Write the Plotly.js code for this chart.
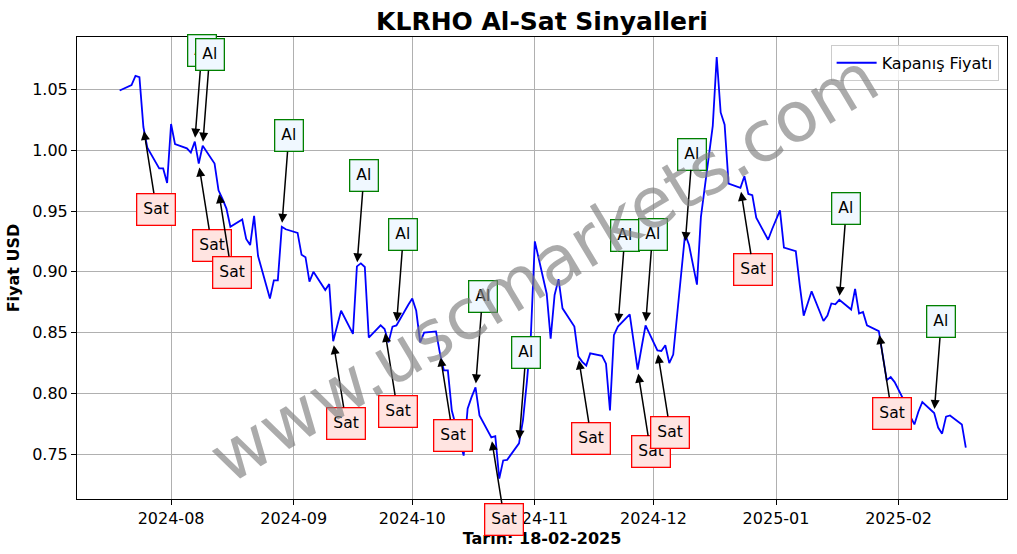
<!DOCTYPE html>
<html>
<head>
<meta charset="utf-8">
<script src="https://cdn.plot.ly/plotly-3.0.1.min.js"></script>
<style>html,body{margin:0;padding:0;background:#fff;}#chart{width:1017px;height:554px;}</style>
</head>
<body>
<div id="chart"></div>
<script>
// Closing prices (USD)
const dates = [
 '2024-07-19','2024-07-22','2024-07-23','2024-07-24','2024-07-25','2024-07-26','2024-07-29','2024-07-30','2024-07-31',
 '2024-08-01','2024-08-02','2024-08-05','2024-08-06','2024-08-07','2024-08-08','2024-08-09','2024-08-12','2024-08-13',
 '2024-08-14','2024-08-15','2024-08-16','2024-08-19','2024-08-20','2024-08-21','2024-08-22','2024-08-23','2024-08-26',
 '2024-08-27','2024-08-28','2024-08-29','2024-08-30','2024-09-02','2024-09-03','2024-09-04','2024-09-05','2024-09-06',
 '2024-09-09','2024-09-10','2024-09-11','2024-09-12','2024-09-13','2024-09-16','2024-09-17','2024-09-18','2024-09-19',
 '2024-09-20','2024-09-23','2024-09-24','2024-09-25','2024-09-26','2024-09-27','2024-09-30','2024-10-01','2024-10-02',
 '2024-10-03','2024-10-04','2024-10-07','2024-10-08','2024-10-09','2024-10-10','2024-10-11','2024-10-14','2024-10-15',
 '2024-10-16','2024-10-17','2024-10-18','2024-10-21','2024-10-22','2024-10-23','2024-10-24','2024-10-25','2024-10-28',
 '2024-10-29','2024-10-30','2024-10-31','2024-11-01','2024-11-04','2024-11-05','2024-11-06','2024-11-07','2024-11-08',
 '2024-11-11','2024-11-12','2024-11-13','2024-11-14','2024-11-15','2024-11-18','2024-11-19','2024-11-20','2024-11-21',
 '2024-11-22','2024-11-25','2024-11-26','2024-11-27','2024-11-28','2024-11-29','2024-12-02','2024-12-03','2024-12-04',
 '2024-12-05','2024-12-06','2024-12-09','2024-12-10','2024-12-11','2024-12-12','2024-12-13','2024-12-16','2024-12-17',
 '2024-12-18','2024-12-19','2024-12-20','2024-12-23','2024-12-24','2024-12-25','2024-12-26','2024-12-27','2024-12-30',
 '2024-12-31','2025-01-01','2025-01-02','2025-01-03','2025-01-06','2025-01-07','2025-01-08','2025-01-09','2025-01-10',
 '2025-01-13','2025-01-14','2025-01-15','2025-01-16','2025-01-17','2025-01-20','2025-01-21','2025-01-22','2025-01-23',
 '2025-01-24','2025-01-27','2025-01-28','2025-01-29','2025-01-30','2025-01-31','2025-02-03','2025-02-04','2025-02-05',
 '2025-02-06','2025-02-07','2025-02-10','2025-02-11','2025-02-12','2025-02-13','2025-02-14','2025-02-17','2025-02-18'
];
const closes = [
 1.049,1.0535,1.061,1.060,1.019,1.002,0.985,0.985,0.973,
 1.0215,1.005,1.0015,0.998,1.007,0.989,1.0037,0.989,0.967,
 0.960,0.952,0.937,0.943,0.927,0.922,0.946,0.913,0.878,
 0.893,0.893,0.937,0.935,0.932,0.914,0.912,0.892,0.900,
 0.885,0.890,0.843,0.856,0.868,0.849,0.9045,0.907,0.904,
 0.846,0.856,0.853,0.842,0.855,0.856,0.873,0.878,0.868,
 0.842,0.850,0.851,0.833,0.819,0.819,0.786,0.749,0.7875,
 0.797,0.805,0.782,0.764,0.765,0.730,0.745,0.7455,0.759,
 0.778,0.810,0.848,0.925,0.882,0.845,0.881,0.894,0.870,
 0.855,0.8305,0.826,0.823,0.833,0.831,0.8245,0.786,0.848,
 0.855,0.865,0.843,0.8196,0.838,0.856,0.8355,0.835,0.8396,
 0.825,0.832,0.931,0.922,0.905,0.8895,0.945,1.020,1.0766,
 1.031,1.021,0.9725,0.969,0.9785,0.964,0.963,0.9445,0.9264,
 0.935,0.943,0.9505,0.920,0.917,0.889,0.864,0.874,0.884,
 0.8596,0.864,0.874,0.8733,0.877,0.869,0.886,0.8657,0.867,
 0.856,0.8513,0.832,0.811,0.8135,0.8094,0.790,0.781,0.7746,
 0.785,0.793,0.784,0.772,0.767,0.781,0.782,0.7746,0.7555
];

// Buy (Al) / Sell (Sat) signals
const sigDates = ['2024-07-25','2024-08-07','2024-08-08','2024-08-09','2024-08-13','2024-08-29','2024-09-11','2024-09-17',
 '2024-09-24','2024-09-27','2024-10-08','2024-10-17','2024-10-21','2024-10-28','2024-11-12','2024-11-22','2024-11-27',
 '2024-11-29','2024-12-02','2024-12-09','2024-12-23','2025-01-17','2025-01-27','2025-02-10'];
const sigPrices = [1.019,1.007,0.989,1.0037,0.967,0.937,0.843,0.9045,
 0.853,0.856,0.833,0.805,0.764,0.759,0.8305,0.855,0.8196,
 0.856,0.8355,0.922,0.969,0.877,0.8513,0.784];
const sigTypes = ['Sat','Al','Sat','Al','Sat','Al','Sat','Al',
 'Sat','Al','Sat','Al','Sat','Al','Sat','Al','Sat',
 'Al','Sat','Al','Sat','Al','Sat','Al'];

const seriesName = 'Kapanış Fiyatı';
const titleText = 'KLRHO Al-Sat Sinyalleri';
const xTitle = 'Tarih: 18-02-2025';
const yTitle = 'Fiyat USD';
const watermark = 'www.uscmarkets.com';

const FONT = 'DejaVu Sans, sans-serif';

const trace = {
  x: dates, y: closes, type: 'scatter', mode: 'lines', name: seriesName,
  line: {color: '#0000ff', width: 1.8}, showlegend: true
};

const annotations = sigTypes.map((t, i) => {
  const sat = t === 'Sat';
  return {
    x: sigDates[i], y: sigPrices[i], xref: 'x', yref: 'y',
    text: t, showarrow: true,
    ax: sat ? 13 : 7, ay: sat ? 82 : -91,
    arrowhead: 2, arrowsize: 1.2, arrowwidth: 1.5, arrowcolor: '#000000',
    standoff: 4, startstandoff: 0,
    font: {family: FONT, size: 15.5, color: '#000000'},
    bgcolor: sat ? '#ffe4e1' : '#f0f8ff',
    bordercolor: sat ? '#ff0000' : '#008000',
    borderwidth: 1.3, borderpad: 6
  };
});

annotations.push({
  xref: 'paper', yref: 'paper', x: 0.502, y: 0.5,
  text: watermark, showarrow: false, textangle: -31,
  font: {family: FONT, size: 70, color: 'rgba(128,128,128,0.66)'}
});

const axisCommon = {
  showline: true, mirror: true, linecolor: '#000000', linewidth: 1,
  ticks: 'outside', ticklen: 5, tickwidth: 1, tickcolor: '#000000',
  showgrid: true, gridcolor: '#b0b0b0', gridwidth: 1, zeroline: false,
  tickfont: {family: FONT, size: 16, color: '#000000'}
};

const layout = {
  width: 1017, height: 554,
  margin: {l: 77, r: 10, t: 37, b: 55},
  paper_bgcolor: '#ffffff', plot_bgcolor: '#ffffff',
  title: {text: titleText, x: 0.5, xref: 'paper', xanchor: 'center',
          y: 1 - 21/554, yref: 'container', yanchor: 'middle',
          font: {family: FONT, size: 25, color: '#000000', weight: 'bold'}},
  xaxis: Object.assign({}, axisCommon, {
    type: 'date', range: ['2024-07-08 05:00', '2025-02-28 10:00'],
    tick0: '2024-08-01', dtick: 'M1', tickformat: '%Y-%m',
    title: {text: xTitle, standoff: 5, font: {family: FONT, size: 16, color: '#000000', weight: 'bold'}}
  }),
  yaxis: Object.assign({}, axisCommon, {
    range: [0.7133, 1.093], dtick: 0.05, tick0: 0.75, tickformat: '.2f',
    title: {text: yTitle, standoff: 8, font: {family: FONT, size: 16, color: '#000000', weight: 'bold'}}
  }),
  legend: {x: 0.991, y: 0.983, xanchor: 'right', yanchor: 'top',
           bgcolor: 'rgba(255,255,255,0.8)', bordercolor: '#cccccc', borderwidth: 1,
           itemwidth: 40,
           font: {family: FONT, size: 16, color: '#000000'}},
  annotations: annotations
};

Plotly.newPlot('chart', [trace], layout, {displayModeBar: false, staticPlot: true});
</script>
</body>
</html>
